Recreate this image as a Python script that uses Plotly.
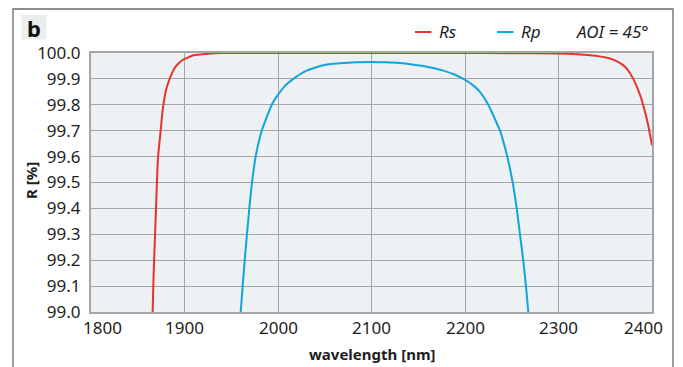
import plotly.graph_objects as go

# Reflectance of the mirror coating at 45° angle of incidence
rs_wavelength = [1865.9, 1867.0, 1868.8, 1870.6, 1871.7, 1874.5, 1876.6, 1880.2, 1884.8,
                 1890.2, 1897.3, 1909.7, 1925.0, 1938.2, 1960.0, 2000.0, 2100.0, 2200.0,
                 2250.0, 2300.0, 2320.0, 2344.0, 2355.0, 2362.0, 2368.0, 2373.0, 2380.0,
                 2387.0, 2392.0, 2396.0, 2400.0]
rs_values = [99.0, 99.148, 99.328, 99.508, 99.598, 99.70, 99.778, 99.856, 99.907,
             99.946, 99.972, 99.991, 99.997, 100.0, 100.0, 100.0, 100.0, 100.0,
             99.999, 99.998, 99.995, 99.987, 99.979, 99.969, 99.956, 99.94, 99.90,
             99.84, 99.78, 99.72, 99.644]

rp_wavelength = [1960.1, 1962.2, 1964.4, 1966.8, 1969.3, 1972.2, 1976.1, 1982.6, 1993.3,
                 2000.3, 2008.0, 2016.4, 2023.5, 2030.8, 2048.5, 2066.3, 2083.0, 2100.2,
                 2115.0, 2130.5, 2145.0, 2155.4, 2166.0, 2176.8, 2188.0, 2198.2, 2208.0,
                 2216.0, 2224.9, 2237.4, 2245.2, 2251.0, 2255.3, 2258.8, 2262.3, 2265.2,
                 2267.7]
rp_values = [99.0, 99.1, 99.2, 99.3, 99.4, 99.5, 99.6, 99.7, 99.8,
             99.84, 99.875, 99.90, 99.918, 99.932, 99.953, 99.960, 99.964, 99.965,
             99.964, 99.961, 99.955, 99.950, 99.942, 99.932, 99.918, 99.90, 99.877,
             99.85, 99.8, 99.7, 99.6, 99.5, 99.4, 99.3, 99.2, 99.1,
             99.0]

series_names = ["Rs", "Rp"]
series_colors = ["#e8322b", "#12a3e0"]
aoi_label = "AOI = 45°"
panel_label = "b"
x_title = "wavelength [nm]"
y_title = "R [%]"
x_ticks = [1800, 1900, 2000, 2100, 2200, 2300, 2400]
y_ticks = [99.0, 99.1, 99.2, 99.3, 99.4, 99.5, 99.6, 99.7, 99.8, 99.9, 100.0]

W, H = 683, 367
ML, MR, MT, MB = 91, 31, 53, 55
PW, PH = W - ML - MR, H - MT - MB


def px(x):
    return (x - ML) / PW


def py(y):
    return 1 - (y - MT) / PH


FONT = "Noto Sans"
TXT = "#1e1e1e"
GRID = "#a6a6a6"
TICK_SIZE = 17

fig = go.Figure()
for wl, vals, name, color in [(rs_wavelength, rs_values, series_names[0], series_colors[0]),
                              (rp_wavelength, rp_values, series_names[1], series_colors[1])]:
    fig.add_trace(go.Scatter(x=wl, y=vals, name=name, mode="lines",
                             line=dict(color=color, width=2, shape="spline", smoothing=0.4),
                             showlegend=False))

shapes = [
    # outer frame
    dict(type="rect", xref="paper", yref="paper", x0=px(13), x1=px(673), y0=py(9), y1=py(380),
         line=dict(color="#6a6a6a", width=1.3), layer="below"),
    # panel label box
    dict(type="rect", xref="paper", yref="paper", x0=px(21.5), x1=px(46.5), y0=py(15), y1=py(39.5),
         line=dict(width=0), fillcolor="#eceeee", layer="below"),
]
annotations = [
    dict(text=f"<b>{panel_label}</b>", xref="paper", yref="paper", x=px(34), y=py(27.5),
         showarrow=False, font=dict(family=FONT, size=22, color="#111"),
         xanchor="center", yanchor="middle"),
    dict(text=f"<b>{x_title}</b>", xref="paper", yref="paper", x=px(371.5), y=py(354),
         showarrow=False, font=dict(family=FONT, size=15, color=TXT),
         xanchor="center", yanchor="middle"),
    dict(text=f"<b>{y_title}</b>", xref="paper", yref="paper", x=px(31), y=py(181),
         showarrow=False, textangle=-90, font=dict(family=FONT, size=15, color=TXT),
         xanchor="center", yanchor="middle"),
]

# x tick labels; the outermost ones are nudged inward to stay inside the frame
for i, v in enumerate(x_ticks):
    shift = 11 if i == 0 else (-9 if i == len(x_ticks) - 1 else 0)
    annotations.append(dict(text=str(v), xref="x", yref="paper", x=v, y=py(327),
                            xshift=shift, showarrow=False, xanchor="center", yanchor="middle",
                            font=dict(family=FONT, size=TICK_SIZE, color=TXT)))

# legend keys drawn as short strokes with italic labels
legend_items = [(415, 437, series_names[0], series_colors[0]),
                (497, 519, series_names[1], series_colors[1])]
for x0, tx, name, color in legend_items:
    shapes.append(dict(type="line", xref="paper", yref="paper", x0=px(x0), x1=px(x0 + 16.5),
                       y0=py(32), y1=py(32), line=dict(color=color, width=2)))
    annotations.append(dict(text=f"<i>{name}</i>", xref="paper", yref="paper", x=px(tx), y=py(32),
                            showarrow=False, xanchor="left", yanchor="middle",
                            font=dict(family=FONT, size=TICK_SIZE, color=TXT)))
annotations.append(dict(text=f"<i>{aoi_label}</i>", xref="paper", yref="paper", x=px(574), y=py(32),
                        showarrow=False, xanchor="left", yanchor="middle",
                        font=dict(family=FONT, size=TICK_SIZE, color=TXT)))

fig.update_layout(
    width=W, height=H,
    margin=dict(l=ML, r=MR, t=MT, b=MB),
    paper_bgcolor="white",
    plot_bgcolor="#edf1f3",
    font=dict(family=FONT, size=TICK_SIZE, color=TXT),
    shapes=shapes,
    annotations=annotations,
    xaxis=dict(range=[1800, 2400], tickvals=x_ticks, showticklabels=False,
               showgrid=True, gridcolor=GRID, gridwidth=1.4,
               showline=True, mirror=True, linecolor=GRID, linewidth=2,
               ticks="", layer="below traces", zeroline=False),
    yaxis=dict(range=[99.0, 100.0], tickvals=y_ticks, tickformat=".1f",
               tickfont=dict(size=TICK_SIZE),
               showgrid=True, gridcolor=GRID, gridwidth=1.4,
               showline=True, mirror=True, linecolor=GRID, linewidth=2,
               ticks="", ticklabelstandoff=5, layer="below traces", zeroline=False),
)

fig.write_html("out.html")
